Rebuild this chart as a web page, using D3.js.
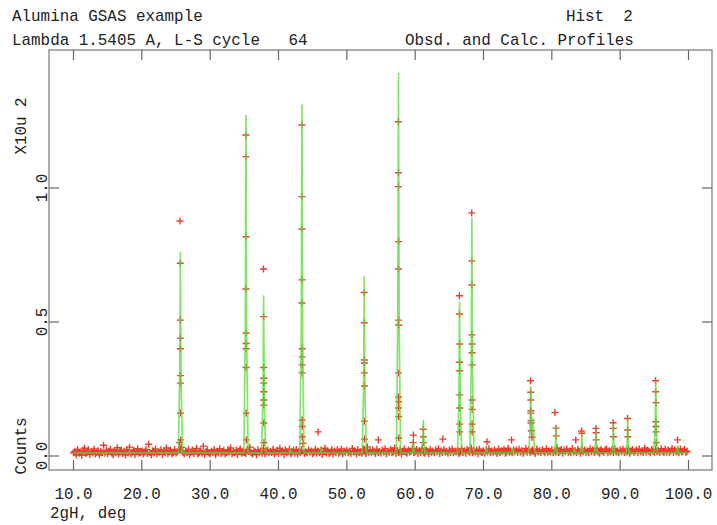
<!DOCTYPE html>
<html>
<head>
<meta charset="utf-8">
<script src="https://cdn.jsdelivr.net/npm/d3@7"></script>
<style>
  body { margin: 0; background: #fff; }
  text { font-family: "Liberation Mono", "DejaVu Sans Mono", monospace; fill: #222; font-size: 15.9px; }
</style>
</head>
<body>
<div class="chart"></div>
<script>
// observed background, 2theta 10.0 .. 99.8 step 0.2 (units X10^2 counts)
var obsStart = 10.0, obsStep = 0.2;
var obsBg = [
  .012,.018,.004,.024,.010,.015,.003,.021,.029,.009,.013,.023,.006,.016,.011,.026,.007,.014,.020,.004,.018,.012,.040,.010,.022,
  .008,.017,.025,.011,.005,.019,.013,.031,.007,.015,.022,.009,.018,.004,.024,.012,.033,.008,.014,.021,.006,.016,.027,.010,.013,
  .019,.007,.015,.024,.009,.044,.013,.005,.020,.011,.026,.008,.016,.014,.023,.006,.018,.012,.030,.009,.015,.021,.007,.013,.024,
  .011,.016,.022,.026,.032,.014,.008,.019,.012,.025,.005,.015,.022,.009,.018,.028,.007,.013,.020,.010,.037,.006,.016,.023,.012,
  .008,.019,.014,.024,.005,.018,.011,.027,.009,.015,.021,.007,.013,.023,.016,.030,.008,.014,.012,.022,.006,.019,.026,.010,.015,
  .013,.009,.024,.017,.033,.012,.007,.020,.015,.005,.023,.014,.019,.010,.028,.008,.016,.022,.012,.018,.013,.025,.007,.015,.021,
  .009,.029,.014,.019,.006,.023,.012,.016,.026,.008,.015,.021,.010,.024,.007,.018,.013,.022,.047,.009,.016,.012,.023,.014,.019,
  .008,.015,.025,.010,.019,.013,.022,.006,.016,.029,.012,.020,.009,.015,.024,.007,.018,.013,.023,.010,.016,.026,.008,.019,.014,
  .022,.012,.018,.009,.028,.015,.020,.007,.024,.013,.016,.010,.026,.019,.008,.034,.014,.020,.012,.023,.016,.009,.025,.013,.018,
  .010,.022,.015,.027,.008,.019,.014,.024,.012,.016,.030,.009,.020,.013,.023,.007,.018,.026,.015,.010,.022,.014,.019,.028,.012,
  .016,.024,.009,.020,.013,.029,.015,.010,.022,.018,.008,.025,.014,.019,.012,.023,.016,.027,.009,.020,.013,.024,.015,.018,.010,
  .022,.014,.026,.012,.019,.016,.023,.009,.015,.028,.013,.020,.010,.024,.018,.014,.030,.012,.019,.015,.022,.008,.025,.016,.013,
  .020,.010,.023,.015,.027,.012,.019,.014,.022,.016,.009,.026,.013,.020,.018,.024,.010,.015,.029,.014,.019,.012,.023,.016,.022,
  .013,.025,.015,.020,.010,.018,.028,.014,.022,.012,.019,.024,.016,.009,.026,.015,.020,.013,.023,.018,.012,.027,.014,.019,.016,
  .023,.012,.020,.015,.030,.013,.018,.024,.010,.022,.016,.026,.014,.019,.012,.028,.015,.020,.013,.024,.018,.010,.025,.016,.022,
  .014,.020,.012,.027,.016,.023,.013,.019,.029,.015,.010,.024,.018,.014,.022,.026,.012,.020,.016,.023,.013,.028,.015,.019,.012,
  .022,.016,.025,.013,.020,.015,.028,.010,.019,.024,.014,.018,.023,.012,.026,.016,.020,.013,.030,.015,.022,.018,.012,.024,.019,
  .014,.023,.016,.020,.013,.027,.018,.012,.025,.015,.022,.014,.019,.028,.013,.023,.016,.020,.012,.026,.015,.019,.024,.014,.018
];

// observed points on the Bragg peaks [2theta, value]
var obsPeaks = [
  [25.58,.877],[25.62,.719],[25.63,.507],[25.64,.44],[25.64,.40],[25.65,.30],[25.65,.272],[25.66,.16],[25.70,.06],[25.52,.05],
  [35.22,1.198],[35.23,1.117],[35.24,.818],[35.24,.623],[35.25,.459],[35.25,.42],[35.25,.40],[35.26,.33],[35.27,.16],[35.30,.06],
  [37.80,.698],[37.82,.52],[37.83,.33],[37.83,.29],[37.83,.272],[37.84,.24],[37.84,.209],[37.84,.19],[37.85,.123],[37.88,.05],
  [43.42,1.235],[43.43,.968],[43.43,.847],[43.44,.657],[43.44,.571],[43.45,.40],[43.45,.37],[43.45,.34],[43.46,.31],[43.46,.134],[43.47,.11],[43.47,.072],
  [45.80,.09],
  [52.54,.61],[52.55,.497],[52.56,.358],[52.56,.347],[52.56,.31],[52.57,.261],[52.57,.13],[52.58,.063],
  [54.60,.06],
  [57.54,1.247],[57.55,1.057],[57.55,1.005],[57.56,.80],[57.56,.698],[57.57,.507],[57.57,.489],[57.57,.31],[57.58,.22],[57.58,.203],[57.58,.179],[57.59,.147],[57.60,.067],
  [59.75,.078],[59.72,.05],
  [61.18,.10],[61.20,.072],[61.22,.05],
  [64.05,.063],
  [66.48,.598],[66.49,.53],[66.50,.418],[66.51,.35],[66.51,.318],[66.52,.228],[66.52,.179],[66.53,.119],[66.53,.09],
  [68.27,.907],[68.29,.728],[68.30,.638],[68.31,.452],[68.32,.418],[68.32,.385],[68.33,.34],[68.33,.209],[68.34,.174],[68.34,.119],[68.35,.09],
  [70.50,.053],
  [74.10,.06],
  [76.88,.281],[76.90,.238],[76.92,.209],[76.93,.169],[76.93,.16],[76.95,.132],[76.96,.123],[77.00,.094],[77.10,.07],
  [80.45,.162],[80.62,.104],[80.65,.075],
  [83.50,.06],
  [84.35,.093],[84.40,.085],
  [86.45,.103],[86.48,.087],[86.50,.06],
  [88.98,.124],[89.00,.103],[89.02,.072],
  [91.08,.14],[91.10,.097],[91.12,.072],
  [95.18,.281],[95.20,.24],[95.25,.199],[95.22,.128],[95.23,.11],[95.24,.09],[95.28,.05],
  [98.40,.06]
];

// calculated profile [2theta, value]
var calcProfile = [
  [10.0,.012],
  [25.34,.012],[25.54,.30],[25.64,.762],[25.74,.28],[25.94,.012],
  [34.94,.012],[35.14,.46],[35.24,1.272],[35.34,.44],[35.54,.012],
  [37.52,.012],[37.72,.22],[37.82,.60],[37.92,.21],[38.12,.012],
  [41.55,.012],[41.70,.025],[41.85,.012],
  [43.13,.012],[43.33,.48],[43.43,1.312],[43.53,.46],[43.73,.012],
  [46.05,.012],[46.20,.025],[46.35,.012],
  [52.25,.012],[52.45,.25],[52.55,.673],[52.65,.24],[52.85,.012],
  [57.26,.012],[57.46,.52],[57.56,1.43],[57.66,.50],[57.86,.012],
  [59.60,.012],[59.75,.05],[59.90,.012],
  [61.00,.012],[61.15,.07],[61.20,.134],[61.25,.07],[61.40,.012],
  [66.20,.012],[66.40,.21],[66.50,.575],[66.60,.20],[66.80,.012],
  [68.00,.012],[68.20,.33],[68.30,.888],[68.40,.32],[68.60,.012],
  [70.30,.012],[70.45,.03],[70.60,.012],
  [74.15,.012],[74.30,.03],[74.45,.012],
  [76.65,.012],[76.82,.11],[76.90,.26],[77.05,.08],[77.25,.14],[77.40,.05],[77.55,.012],
  [80.40,.012],[80.55,.05],[80.60,.11],[80.65,.05],[80.80,.012],
  [83.15,.012],[83.30,.025],[83.45,.012],
  [84.20,.012],[84.35,.04],[84.40,.088],[84.45,.04],[84.60,.012],
  [86.25,.012],[86.40,.045],[86.45,.097],[86.50,.045],[86.65,.012],
  [88.80,.012],[88.95,.05],[89.00,.12],[89.05,.05],[89.20,.012],
  [90.90,.012],[91.05,.06],[91.10,.14],[91.15,.06],[91.30,.012],
  [94.95,.012],[95.12,.11],[95.20,.28],[95.28,.11],[95.45,.012],
  [98.25,.012],[98.40,.04],[98.55,.012],
  [99.9,.012]
];

var xTicks = [10, 20, 30, 40, 50, 60, 70, 80, 90, 100];
var yTicks = [0.0, 0.5, 1.0];

var titleLeft1 = "Alumina GSAS example";
var titleRight1 = "Hist  2";
var titleLeft2 = "Lambda 1.5405 A, L-S cycle   64";
var titleRight2 = "Obsd. and Calc. Profiles";
var xLabel = "2gH, deg";
var yLabelTop = "X10u 2";
var yLabelBottom = "Counts";

var svgWidth = 717, svgHeight = 525;
var frame = { left: 49, right: 712, top: 50, bottom: 470 };

var svg = d3.select(".chart").append("svg")
  .attr("width", svgWidth)
  .attr("height", svgHeight);

// scales
var xScale = d3.scaleLinear().domain([10, 100]).range([73.5, 688.5]);
var yScale = d3.scaleLinear().domain([0, 1]).range([456, 188]);

// clip
svg.append("clipPath").attr("id", "plotClip")
  .append("rect")
  .attr("x", frame.left).attr("y", frame.top)
  .attr("width", frame.right - frame.left)
  .attr("height", frame.bottom - frame.top);

var plot = svg.append("g").attr("clip-path", "url(#plotClip)");

// observed crosses
var obsPoints = obsBg.map(function(v, i) { return [obsStart + i * obsStep, v]; })
  .concat(obsPeaks);

var crossPath = obsPoints.map(function(d) {
  var cx = xScale(d[0]), cy = yScale(d[1]);
  return "M" + (cx - 3.5) + "," + cy + "h7M" + cx + "," + (cy - 3.5) + "v7";
}).join("");

plot.append("path")
  .attr("d", crossPath)
  .attr("fill", "none")
  .attr("stroke", "#ec3b2f")
  .attr("stroke-width", 1.4);

// calculated line
var line = d3.line()
  .x(function(d) { return xScale(d[0]); })
  .y(function(d) { return yScale(d[1]); });

plot.append("path")
  .datum(calcProfile)
  .attr("d", line)
  .attr("fill", "none")
  .attr("stroke", "#5ad93a")
  .attr("stroke-opacity", 0.75)
  .attr("stroke-width", 1.7);

// frame
svg.append("rect")
  .attr("x", frame.left).attr("y", frame.top)
  .attr("width", frame.right - frame.left)
  .attr("height", frame.bottom - frame.top)
  .attr("fill", "none")
  .attr("stroke", "#777")
  .attr("stroke-width", 1.2);

// inward ticks on all sides
var tickLen = 10;
var ticks = svg.append("g").attr("stroke", "#666").attr("stroke-width", 1.2);
xTicks.forEach(function(t) {
  var x = xScale(t);
  ticks.append("line").attr("x1", x).attr("x2", x).attr("y1", frame.bottom).attr("y2", frame.bottom - tickLen);
  ticks.append("line").attr("x1", x).attr("x2", x).attr("y1", frame.top).attr("y2", frame.top + tickLen);
});
yTicks.forEach(function(t) {
  var y = yScale(t);
  ticks.append("line").attr("x1", frame.left).attr("x2", frame.left + tickLen).attr("y1", y).attr("y2", y);
  ticks.append("line").attr("x1", frame.right).attr("x2", frame.right - tickLen).attr("y1", y).attr("y2", y);
});

// tick labels
var fmt = d3.format(".1f");
svg.append("g").selectAll("text")
  .data(xTicks)
  .enter()
  .append("text")
  .attr("x", function(d) { return xScale(d); })
  .attr("y", 499)
  .attr("text-anchor", "middle")
  .text(function(d) { return fmt(d); });

svg.append("g").selectAll("text")
  .data(yTicks)
  .enter()
  .append("text")
  .attr("transform", function(d) { return "translate(47," + yScale(d) + ") rotate(-90)"; })
  .attr("text-anchor", "middle")
  .text(function(d) { return fmt(d); });

// axis titles
svg.append("text")
  .attr("transform", "translate(26,126) rotate(-90)")
  .attr("text-anchor", "middle")
  .text(yLabelTop);

svg.append("text")
  .attr("transform", "translate(26,446) rotate(-90)")
  .attr("text-anchor", "middle")
  .text(yLabelBottom);

svg.append("text")
  .attr("x", 50).attr("y", 518)
  .text(xLabel);

// header lines
svg.append("text").attr("x", 12).attr("y", 21).text(titleLeft1);
svg.append("text").attr("x", 566).attr("y", 21).attr("xml:space", "preserve").style("white-space", "pre").text(titleRight1);
svg.append("text").attr("x", 12).attr("y", 45).attr("xml:space", "preserve").style("white-space", "pre").text(titleLeft2);
svg.append("text").attr("x", 405).attr("y", 45).text(titleRight2);
</script>
</body>
</html>
